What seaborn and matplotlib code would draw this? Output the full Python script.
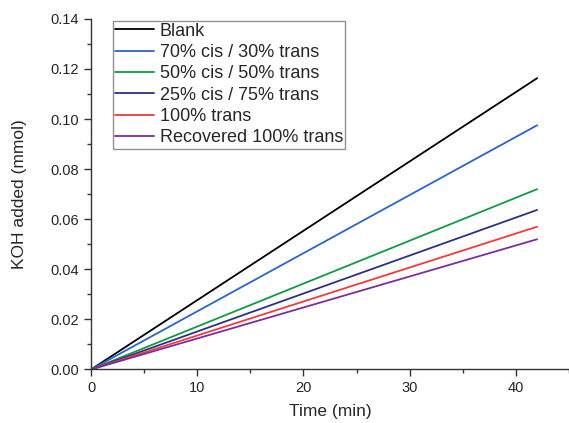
import numpy as np
import matplotlib
matplotlib.use("Agg")
import matplotlib.pyplot as plt
import pandas as pd
import seaborn as sns
from matplotlib.ticker import MultipleLocator

# readings (start and end of each run)
time_min = [0, 42]
series = ["Blank", "70% cis / 30% trans", "50% cis / 50% trans",
          "25% cis / 75% trans", "100% trans", "Recovered 100% trans"]
blank = [0.0, 0.1163]
cis70 = [0.0, 0.0975]
cis50 = [0.0, 0.0720]
cis25 = [0.0, 0.0637]
trans100 = [0.0, 0.0570]
recovered = [0.0, 0.0520]
colors = ["#000000", "#2a64c8", "#109a44", "#2c3184", "#f43a3a", "#7b2e9e"]

rows = []
for name, vals in zip(series, [blank, cis70, cis50, cis25, trans100, recovered]):
    for t, v in zip(time_min, vals):
        rows.append({"Time (min)": t, "KOH added (mmol)": v, "sample": name})
df = pd.DataFrame(rows)

sns.set_style("ticks")
plt.rcParams["font.family"] = ["Liberation Sans", "DejaVu Sans"]
plt.rcParams["xtick.direction"] = "out"
plt.rcParams["ytick.direction"] = "out"

fig = plt.figure(figsize=(5.69, 4.23), dpi=100)
ax = fig.add_axes([0.16, 0.1265, 0.84, 0.829])

sns.lineplot(data=df, x="Time (min)", y="KOH added (mmol)", hue="sample",
             hue_order=series, palette=colors, linewidth=1.3, ax=ax)

ax.set_xlim(0, 45)
ax.set_ylim(0, 0.14)
ax.xaxis.set_major_locator(MultipleLocator(10))
ax.xaxis.set_minor_locator(MultipleLocator(5))
ax.yaxis.set_major_locator(MultipleLocator(0.02))
ax.yaxis.set_minor_locator(MultipleLocator(0.01))
ax.yaxis.set_major_formatter(matplotlib.ticker.FormatStrFormatter("%.2f"))
ax.tick_params(which="major", length=5, width=1, labelsize=10.5, color="#333333")
ax.tick_params(which="minor", length=3, width=1, color="#333333")
sns.despine(ax=ax)
for s in ["left", "bottom"]:
    ax.spines[s].set_color("#333333")
    ax.spines[s].set_linewidth(1)

ax.set_xlabel("Time (min)", fontsize=12.5, labelpad=6)
ax.set_ylabel("KOH added (mmol)", fontsize=12.5, labelpad=17)

leg = ax.legend(loc="upper left", bbox_to_anchor=(0.045, 0.995), borderaxespad=0,
                fontsize=13, frameon=True, fancybox=False, handlelength=2.2,
                handletextpad=0.3, labelspacing=0.24, borderpad=0.12)
leg.get_frame().set_edgecolor("#777777")
leg.get_frame().set_linewidth(1)
for line in leg.get_lines():
    line.set_linewidth(1.3)

fig.savefig("out.png", dpi=100)
